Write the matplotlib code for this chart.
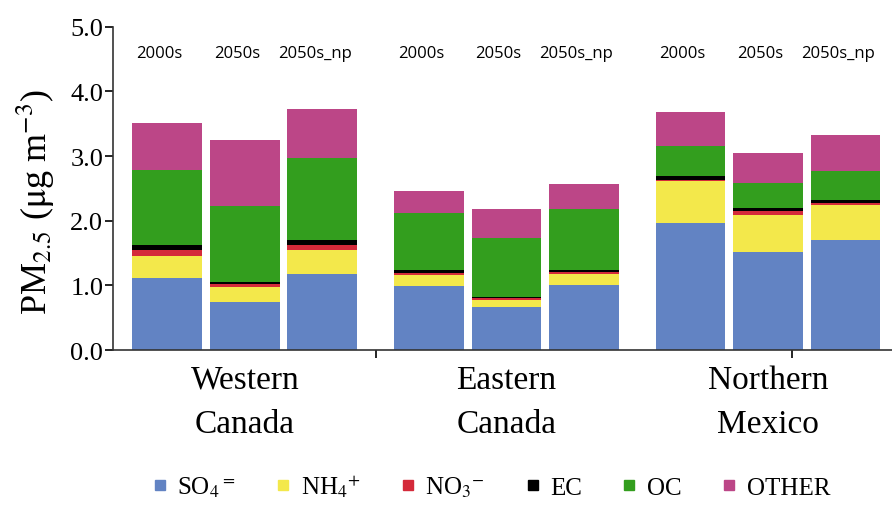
import matplotlib
matplotlib.use('Agg')
import matplotlib.pyplot as plt
from matplotlib.lines import Line2D
import numpy as np

plt.rcParams['font.family'] = ['Liberation Serif', 'DejaVu Serif']
plt.rcParams['mathtext.fontset'] = 'stix'

# ── data ───────────────────────────────────────────
regions = ['Western\nCanada', 'Eastern\nCanada', 'Northern\nMexico']
periods = ['2000s', '2050s', '2050s_np']

# order: W(2000s, 2050s, np), E(...), N(...)
so4 = [1.12, 0.74, 1.18, 0.99, 0.66, 1.00, 1.97, 1.52, 1.70]
nh4 = [0.33, 0.23, 0.37, 0.18, 0.12, 0.18, 0.64, 0.575, 0.545]
no3 = [0.10, 0.06, 0.08, 0.03, 0.02, 0.03, 0.02, 0.055, 0.03]
ec = [0.08, 0.02, 0.08, 0.035, 0.025, 0.03, 0.07, 0.05, 0.05]
oc = [1.16, 1.18, 1.26, 0.88, 0.91, 0.95, 0.45, 0.38, 0.44]
other = [0.72, 1.02, 0.765, 0.34, 0.45, 0.38, 0.54, 0.47, 0.555]

species = [so4, nh4, no3, ec, oc, other]
species_labels = ['SO$_4$$^{=}$', 'NH$_4$$^{+}$', 'NO$_3$$^{-}$', 'EC', 'OC', 'OTHER']
colors = ['#6283c3', '#f3e84b', '#d42a3a', '#000000', '#339e1e', '#bc4687']

# ── positions ─────────────────────────────────────
group_gap = 1.375
x = np.array([g * (2 + group_gap) + i for g in range(3) for i in range(3)])
group_centers = [g * (2 + group_gap) + 1 for g in range(3)]
separators = [2 + group_gap / 2, 2 * 2 + group_gap + 2 + group_gap / 2]

fig = plt.figure(figsize=(8.92, 5.06), dpi=100)
ax = fig.add_axes([0.1267, 0.306, 0.8733, 0.639])

bottom = np.zeros(len(x))
for vals, col, lab in zip(species, colors, species_labels):
    ax.bar(x, vals, width=0.9, bottom=bottom, color=col, label=lab)
    bottom += np.array(vals)

# period labels above bars (sit a little left of the bar centres in the original)
for xi, p in zip(x, periods * 3):
    ax.text(xi - 0.1, 4.6, p, ha='center', va='center', fontsize=12,
            family=['Open Sans', 'DejaVu Sans'])

ax.set_xlim(-0.70, 9.35)
ax.set_ylim(0, 5.0)
ax.set_yticks(np.arange(0, 5.01, 1.0))
ax.set_yticklabels([f'{v:.1f}' for v in np.arange(0, 5.01, 1.0)], fontsize=19)
ax.tick_params(axis='y', direction='out', length=6, width=1.2, pad=1)

ax.set_xticks(separators)
ax.set_xticklabels([])
ax.tick_params(axis='x', direction='out', length=6, width=1.2)
for c, r in zip(group_centers, regions):
    ax.text(c, -0.22, r, ha='center', va='top', fontsize=24, linespacing=1.6)

ax.spines['top'].set_visible(False)
ax.spines['right'].set_visible(False)
for s in ['left', 'bottom']:
    ax.spines[s].set_linewidth(1.2)
    ax.spines[s].set_color('#333333')

ax.set_ylabel('PM$_{2.5}$ ($\\mathrm{\\mu}$g m$^{-3}$)', fontsize=26)
ax.yaxis.set_label_coords(-0.072, 0.46)

handles = [Line2D([], [], marker='s', linestyle='none', markersize=7,
                  markerfacecolor=c, markeredgecolor=c) for c in colors]
fig.legend(handles, species_labels, loc='center', bbox_to_anchor=(0.55, 0.038),
           ncol=6, frameon=False, fontsize=18, handlelength=0.7,
           handletextpad=0.35, columnspacing=1.55)

fig.savefig('out.png', dpi=100)
